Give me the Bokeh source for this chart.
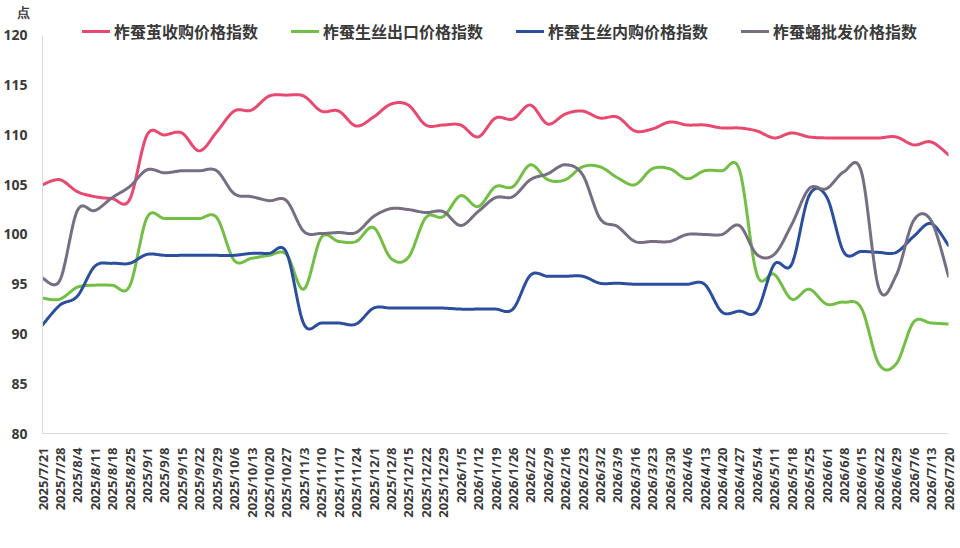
import numpy as np
from bokeh.plotting import figure
from bokeh.models import Range1d, FixedTicker, Legend, LegendItem, Title
from bokeh.embed import file_html
from bokeh.resources import INLINE

# Weekly dates (category axis)
dates = [
    "2025/7/21", "2025/7/28", "2025/8/4", "2025/8/11", "2025/8/18", "2025/8/25",
    "2025/9/1", "2025/9/8", "2025/9/15", "2025/9/22", "2025/9/29",
    "2025/10/6", "2025/10/13", "2025/10/20", "2025/10/27",
    "2025/11/3", "2025/11/10", "2025/11/17", "2025/11/24",
    "2025/12/1", "2025/12/8", "2025/12/15", "2025/12/22", "2025/12/29",
    "2026/1/5", "2026/1/12", "2026/1/19", "2026/1/26",
    "2026/2/2", "2026/2/9", "2026/2/16", "2026/2/23",
    "2026/3/2", "2026/3/9", "2026/3/16", "2026/3/23", "2026/3/30",
    "2026/4/6", "2026/4/13", "2026/4/20", "2026/4/27",
    "2026/5/4", "2026/5/11", "2026/5/18", "2026/5/25",
    "2026/6/1", "2026/6/8", "2026/6/15", "2026/6/22", "2026/6/29",
    "2026/7/6", "2026/7/13", "2026/7/20",
]

# 柞蚕茧收购价格指数
cocoon_purchase = [
    105.0, 105.5, 104.3, 103.8, 103.6, 103.5, 110.0, 110.0, 110.2, 108.4,
    110.3, 112.4, 112.5, 113.9, 114.0, 113.9, 112.4, 112.4, 110.9, 111.8,
    113.1, 113.0, 111.0, 111.0, 111.0, 109.8, 111.7, 111.6, 113.0, 111.1,
    112.1, 112.4, 111.7, 111.8, 110.4, 110.6, 111.3, 111.0, 111.0, 110.7,
    110.7, 110.4, 109.7, 110.2, 109.8, 109.7, 109.7, 109.7, 109.7, 109.8,
    109.0, 109.3, 108.0,
]

# 柞蚕生丝出口价格指数
silk_export = [
    93.6, 93.5, 94.7, 94.9, 94.9, 94.8, 101.7, 101.6, 101.6, 101.6,
    101.7, 97.4, 97.6, 97.9, 98.0, 94.5, 99.7, 99.3, 99.3, 100.7,
    97.6, 97.7, 101.7, 101.8, 103.9, 102.8, 104.8, 104.8, 107.0, 105.5,
    105.5, 106.8, 106.8, 105.7, 105.0, 106.6, 106.6, 105.6, 106.4, 106.4,
    106.5, 96.0, 96.0, 93.5, 94.5, 93.0, 93.2, 92.6, 87.0, 87.0,
    91.2, 91.1, 91.0,
]

# 柞蚕生丝内购价格指数
silk_domestic = [
    90.9, 92.9, 93.8, 96.8, 97.1, 97.1, 98.0, 97.9, 97.9, 97.9,
    97.9, 97.9, 98.1, 98.1, 98.2, 91.0, 91.1, 91.1, 91.0, 92.6,
    92.6, 92.6, 92.6, 92.6, 92.5, 92.5, 92.5, 92.5, 95.9, 95.8,
    95.8, 95.8, 95.1, 95.1, 95.0, 95.0, 95.0, 95.0, 95.0, 92.2,
    92.3, 92.3, 97.0, 97.0, 103.9, 103.8, 98.2, 98.3, 98.2, 98.2,
    99.8, 101.1, 98.9,
]

# 柞蚕蛹批发价格指数
pupa_wholesale = [
    95.6, 95.4, 102.4, 102.4, 103.7, 104.8, 106.5, 106.2, 106.4, 106.4,
    106.4, 104.1, 103.8, 103.4, 103.4, 100.3, 100.1, 100.2, 100.2, 101.8,
    102.6, 102.5, 102.2, 102.3, 100.9, 102.3, 103.7, 103.8, 105.5, 106.1,
    107.0, 106.0, 101.6, 100.8, 99.3, 99.3, 99.3, 100.0, 100.0, 100.0,
    100.9, 98.0, 98.0, 101.0, 104.6, 104.6, 106.3, 106.3, 94.6, 95.9,
    101.4, 101.4, 95.8,
]

series = [
    ("柞蚕茧收购价格指数", cocoon_purchase, "#E9496F"),
    ("柞蚕生丝出口价格指数", silk_export, "#73BF45"),
    ("柞蚕生丝内购价格指数", silk_domestic, "#2B4F9E"),
    ("柞蚕蛹批发价格指数", pupa_wholesale, "#766E82"),
]

y_ticks = [80, 85, 90, 95, 100, 105, 110, 115, 120]


def smooth(xs, ys, steps=16):
    """Catmull-Rom style smoothing through every point (cubic Bezier segments)."""
    xs = np.asarray(xs, dtype=float)
    ys = np.asarray(ys, dtype=float)
    n = len(xs)
    out_x, out_y = [], []
    t = np.linspace(0, 1, steps, endpoint=False)
    for i in range(n - 1):
        p0 = i - 1 if i > 0 else i
        p3 = i + 2 if i + 2 < n else i + 1
        x0, y0 = xs[i], ys[i]
        x3, y3 = xs[i + 1], ys[i + 1]
        x1 = x0 + (xs[i + 1] - xs[p0]) / 6.0
        y1 = y0 + (ys[i + 1] - ys[p0]) / 6.0
        x2 = x3 - (xs[p3] - xs[i]) / 6.0
        y2 = y3 - (ys[p3] - ys[i]) / 6.0
        a = (1 - t) ** 3
        b = 3 * (1 - t) ** 2 * t
        c = 3 * (1 - t) * t ** 2
        d = t ** 3
        out_x.extend(a * x0 + b * x1 + c * x2 + d * x3)
        out_y.extend(a * y0 + b * y1 + c * y2 + d * y3)
    out_x.append(xs[-1])
    out_y.append(ys[-1])
    return out_x, out_y


idx = list(range(len(dates)))

# frame reaches up to the legend row; the value axis itself stops at 120
FRAME_TOP = 18
y_top = 120 + (33 - FRAME_TOP) / 10.0

p = figure(
    width=960, height=548,
    output_backend="svg", toolbar_location=None,
    x_range=Range1d(0, len(dates) - 1), y_range=Range1d(80, y_top),
    min_border_left=39, min_border_right=12,
    min_border_top=FRAME_TOP, min_border_bottom=115,
)
p.outline_line_color = None
p.background_fill_color = "white"
p.border_fill_color = "white"
p.xgrid.visible = False
p.ygrid.visible = False

# unit caption above the value axis
unit_title = Title(
    text="点", align="left", offset=-26, standoff=0,
    text_font="Noto Sans", text_font_size="13px", text_font_style="bold",
    text_color="#3A3A3A",
)
p.add_layout(unit_title, "above")

# Axes
p.yaxis.ticker = FixedTicker(ticks=y_ticks)
p.yaxis.bounds = (80, 120)
p.yaxis.axis_line_color = "#D9D9D9"
p.yaxis.major_tick_line_color = None
p.yaxis.minor_tick_line_color = None
p.yaxis.major_label_text_font = "Noto Sans"
p.yaxis.major_label_text_font_size = "14px"
p.yaxis.major_label_text_font_style = "bold"
p.yaxis.major_label_text_color = "#3A3A3A"
p.yaxis.major_label_standoff = 9

p.xaxis.ticker = FixedTicker(ticks=idx)
p.xaxis.major_label_overrides = {i: d for i, d in zip(idx, dates)}
p.xaxis.major_label_orientation = np.pi / 2
p.xaxis.axis_line_color = "#D9D9D9"
p.xaxis.major_tick_line_color = None
p.xaxis.minor_tick_line_color = None
p.xaxis.major_label_text_font = "Noto Sans"
p.xaxis.major_label_text_font_size = "13px"
p.xaxis.major_label_text_font_style = "bold"
p.xaxis.major_label_text_color = "#3A3A3A"
p.xaxis.major_label_standoff = 8

items = []
for name, vals, color in series:
    sx, sy = smooth(idx, vals)
    r = p.line(sx, sy, line_color=color, line_width=3, line_join="round", line_cap="round")
    items.append(LegendItem(label=name, renderers=[r]))

legend = Legend(
    items=items,
    orientation="horizontal",
    location=(40, 390),
    glyph_width=28, glyph_height=18, label_height=18,
    label_standoff=4, spacing=33,
    padding=0, margin=0,
    border_line_color=None, background_fill_alpha=0,
    label_text_font="Noto Sans CJK SC",
    label_text_font_size="16px",
    label_text_font_style="bold",
    label_text_color="#3A3A3A",
)
p.add_layout(legend)

open("out.html", "w").write(file_html(p, INLINE))
